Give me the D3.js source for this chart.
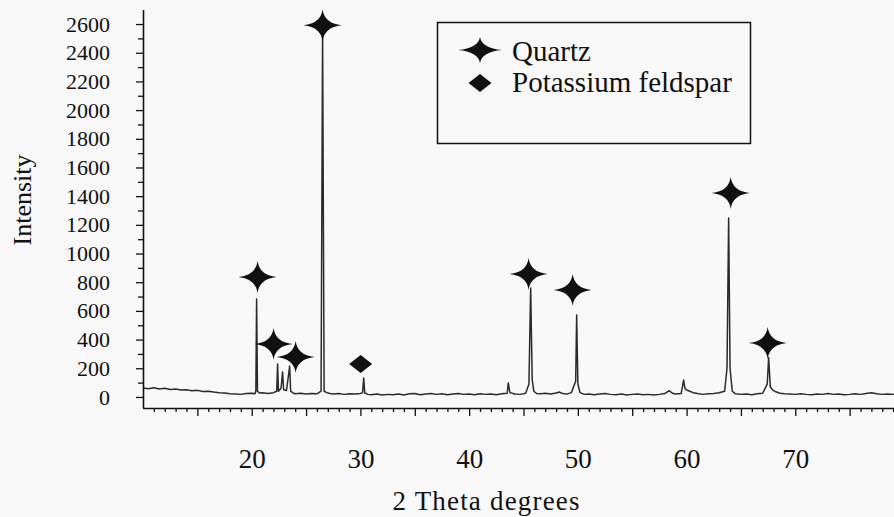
<!DOCTYPE html>
<html>
<head>
<meta charset="utf-8">
<script src="https://cdn.jsdelivr.net/npm/d3@7"></script>
<style>
  html, body { margin: 0; padding: 0; background: #f8f8f8; }
  svg { display: block; }
  svg text { font-family: 'Liberation Serif', serif !important; fill: #111; }
</style>
</head>
<body>
<svg id="chart" width="894" height="517"></svg>
<script>
// ---- data ----
const twoTheta = [
  10, 10.5, 11, 11.5, 12, 12.5, 13, 13.5, 14, 14.5, 15, 15.5, 16, 16.5, 17, 17.5, 18, 18.5, 19, 19.5, 20, 20.3,
  20.38, 20.45, 20.53, 20.7, 21, 21.5, 22, 22.3, 22.38, 22.46, 22.7, 22.84, 22.94, 23.2, 23.49, 23.58, 23.8, 24,
  24.5, 25, 25.5, 26, 26.38, 26.52, 26.66, 26.9, 27.2, 27.5, 28, 28.5, 29, 29.5, 30, 30.2, 30.3, 30.4, 30.7,
  31, 31.5, 32, 32.5, 33, 33.5, 34, 34.5, 35, 35.5, 36, 36.5, 37, 37.5, 38, 38.5, 39, 39.5, 40, 40.5, 41, 41.5,
  42, 42.5, 43, 43.5, 43.6, 43.75, 44.2, 44.7, 45.2, 45.5, 45.66, 45.8, 45.95, 46.2, 46.6, 47, 47.5, 48, 48.3,
  48.6, 49, 49.4, 49.65, 49.8, 49.89, 50.0, 50.2, 50.6, 51, 51.5, 52, 52.5, 53, 53.5, 54, 54.5, 55, 55.5, 56,
  56.5, 57, 57.5, 58, 58.4, 58.7, 59, 59.5, 59.73, 59.85, 60, 60.3, 60.6, 61, 61.5, 62, 62.5, 63, 63.5, 63.72,
  63.87, 64.0, 64.2, 64.5, 65, 65.5, 66, 66.5, 67, 67.42, 67.55, 67.7, 67.9, 68.2, 68.6, 69, 69.5, 70, 70.5,
  71, 71.5, 72, 72.5, 73, 73.5, 74, 74.5, 75, 75.5, 76, 76.5, 77, 77.5, 78, 78.5, 79, 79.5, 80
];
const intensity = [
  62, 58, 64, 55, 60, 52, 56, 48, 50, 44, 46, 38, 40, 34, 30, 28, 22, 20, 18, 24, 26, 22,
  40, 683, 40, 28, 30, 24, 30, 40, 230, 40, 60, 174, 50, 45, 216, 40, 28, 22,
  26, 20, 24, 22, 40, 2540, 40, 30, 24, 20, 24, 18, 22, 20, 24, 30, 132, 28, 18,
  16, 20, 14, 18, 16, 20, 14, 22, 24, 16, 20, 24, 18, 22, 16, 20, 24, 18, 20, 16, 22, 18,
  20, 16, 22, 26, 98, 30, 20, 18, 26, 90, 760, 120, 40, 24, 22, 26, 20, 28, 34,
  24, 20, 30, 80, 110, 571, 90, 30, 18, 20, 16, 20, 24, 18, 16, 20, 14, 18, 20, 16,
  18, 14, 18, 24, 44, 26, 20, 24, 118, 60, 48, 40, 30, 24, 18, 22, 24, 30, 40, 200,
  1247, 200, 40, 22, 18, 20, 16, 22, 26, 90, 275, 70, 50, 36, 26, 22, 20, 18, 22,
  18, 16, 20, 18, 24, 18, 20, 16, 18, 22, 18, 24, 30, 22, 18, 20, 18, 20, 22
];
// marker positions (2θ, intensity)
const quartzX = [20.54, 22.01, 24.04, 26.52, 45.47, 49.52, 64.06, 67.46];
const quartzY = [836, 369, 279, 2592, 857, 746, 1422, 376];
const feldsparX = [30.02];
const feldsparY = [230];
const yTickValues = [0, 200, 400, 600, 800, 1000, 1200, 1400, 1600, 1800, 2000, 2200, 2400, 2600];
const xTickValues = [20, 30, 40, 50, 60, 70];
const legendLabels = ["Quartz", "Potassium feldspar"];
const xTitle = "2 Theta degrees";
const yTitle = "Intensity";

// ---- layout ----
const svg = d3.select("#chart");
const mLeft = 143, mRight = 904, mBottom = 408, mTop = 10;
const x = d3.scaleLinear().domain([10, 80]).range([mLeft, mRight]);
const y = d3.scaleLinear().domain([-77, 2698]).range([mBottom, mTop]);
const serif = "'Liberation Serif', serif";

svg.append("rect").attr("width", 894).attr("height", 517).attr("fill", "#f8f8f8");

svg.append("defs").append("clipPath").attr("id", "plotclip")
  .append("rect").attr("x", mLeft).attr("y", 0).attr("width", mRight - mLeft).attr("height", mBottom);

// data line
const pts = twoTheta.map((t, i) => [t, intensity[i]]);
svg.append("path")
  .datum(pts)
  .attr("clip-path", "url(#plotclip)")
  .attr("fill", "none")
  .attr("stroke", "#2a2a2a")
  .attr("stroke-width", 1.5)
  .attr("stroke-linejoin", "round")
  .attr("d", d3.line().x(d => x(d[0])).y(d => y(d[1])));

// ---- axes ----
const gxMinor = svg.append("g").attr("transform", `translate(0,${mBottom})`)
  .call(d3.axisBottom(x).tickValues(d3.range(11, 80, 1).filter(v => v % 5 !== 0)).tickSize(4).tickFormat(""));
gxMinor.select(".domain").remove();
const gx = svg.append("g").attr("transform", `translate(0,${mBottom})`)
  .call(d3.axisBottom(x).tickValues(d3.range(15, 81, 5)).tickSize(8)
    .tickFormat(d => xTickValues.includes(d) ? String(d) : ""));
gx.attr("font-family", null);
gx.select(".domain").attr("d", `M${mLeft},0.5H894`).attr("stroke", "#111").attr("stroke-width", 1.6);
gx.selectAll("text").attr("y", 41).style("font-size", "27px").style("font-family", serif).attr("fill", "#111");

const gyMinor = svg.append("g").attr("transform", `translate(${mLeft},0)`)
  .call(d3.axisLeft(y).tickValues(d3.range(100, 2700, 200)).tickSize(5).tickFormat(""));
gyMinor.select(".domain").remove();
const gy = svg.append("g").attr("transform", `translate(${mLeft},0)`)
  .call(d3.axisLeft(y).tickValues(yTickValues).tickSize(7).tickFormat(d => String(d)));
gy.attr("font-family", null);
gy.select(".domain").attr("d", `M0.5,${mBottom}V${mTop}`).attr("stroke", "#111").attr("stroke-width", 1.6);
gy.selectAll("text").attr("x", -33).style("font-size", "22px").style("font-family", serif).attr("fill", "#111");
svg.selectAll(".tick line").attr("stroke", "#111").attr("stroke-width", 1.3);

// titles
svg.append("text").attr("x", 486).attr("y", 510).attr("text-anchor", "middle")
  .style("font-size", "27px").style("font-family", serif).attr("textLength", 187).text(xTitle);
svg.append("text").attr("transform", "translate(31,200) rotate(-90)").attr("text-anchor", "middle")
  .style("font-size", "26px").style("font-family", serif).text(yTitle);

// ---- markers ----
function starPath(w, h) {
  const a = 1.8;
  return `M${-w/2},0 Q${-a},${-a} 0,${-h/2} Q${a},${-a} ${w/2},0 Q${a},${a} 0,${h/2} Q${-a},${a} ${-w/2},0Z`;
}
const diamond = "M0,-9 L11.5,0 L0,9 L-11.5,0Z";

const stars = svg.append("g").selectAll("g.star")
  .data(quartzX.map((v, i) => [v, quartzY[i]]))
  .join("g").attr("class", "star")
  .attr("transform", d => `translate(${x(d[0])},${y(d[1])})`);
stars.append("path").attr("d", starPath(38, 32)).attr("fill", "#111");
stars.append("ellipse").attr("rx", 4).attr("ry", 5).attr("fill", "#111");

svg.append("g").selectAll("path.dia")
  .data(feldsparX.map((v, i) => [v, feldsparY[i]]))
  .join("path").attr("class", "dia")
  .attr("transform", d => `translate(${x(d[0])},${y(d[1])})`)
  .attr("d", diamond).attr("fill", "#111");

// ---- legend ----
const lg = svg.append("g");
lg.append("rect").attr("x", 437.5).attr("y", 22.5).attr("width", 313).attr("height", 121)
  .attr("fill", "#f8f8f8").attr("stroke", "#111").attr("stroke-width", 1.5);
lg.append("path").attr("transform", "translate(480,50)").attr("d", starPath(44, 26)).attr("fill", "#111");
lg.append("ellipse").attr("cx", 480).attr("cy", 50).attr("rx", 3.5).attr("ry", 5).attr("fill", "#111");
lg.append("path").attr("transform", "translate(480,83)").attr("d", diamond).attr("fill", "#111");
lg.append("text").attr("x", 512).attr("y", 61).style("font-size", "29px").style("font-family", serif).text(legendLabels[0]);
lg.append("text").attr("x", 512).attr("y", 92).style("font-size", "29px").style("font-family", serif).text(legendLabels[1]);
</script>
</body>
</html>
